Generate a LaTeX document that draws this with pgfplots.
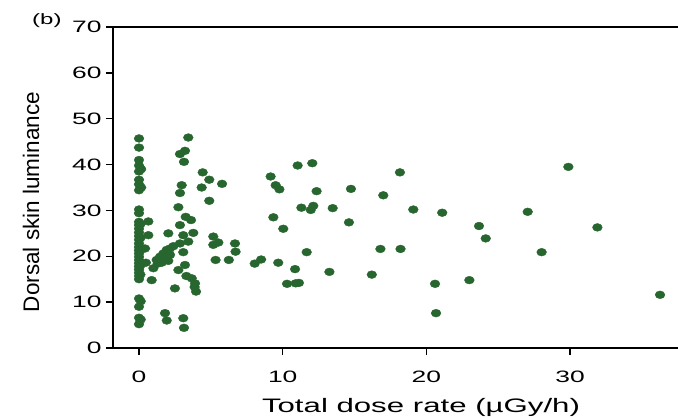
\documentclass[border=0pt]{standalone}
\usepackage{fontspec}
\setmainfont{Liberation Sans}
\newfontfamily\tickfont[FakeStretch=1.6]{Liberation Sans}
\newfontfamily\labfont[FakeStretch=1.6]{Liberation Sans}
\newfontfamily\plainfont{Liberation Sans}
\usepackage{pgfplots}
\pgfplotsset{compat=1.18}
\definecolor{dotgreen}{RGB}{40,102,47}
\begin{document}
\begin{tikzpicture}
\begin{axis}[
  scale only axis,
  width=565pt, height=321pt,
  xmin=-1.81, xmax=37.51,
  ymin=0, ymax=70,
  axis x line*=box, axis y line*=left,
  xtick={0,10,20,30}, ytick={0,10,...,70},
  xtick pos=bottom, ytick pos=left,
  tick align=outside,
  major tick length=7pt,
  every tick/.style={black, line width=1.4pt},
  axis line style={black, line width=1.4pt},
  /pgf/number format/assume math mode=true,
  ticklabel style={font=\tickfont\fontsize{16.5}{18}\selectfont},
  xticklabel style={yshift=-12pt},
  yticklabel style={xshift=-1pt},
  clip=false,
]
\addplot[only marks, mark=*, mark size=3.9pt, mark options={xscale=1.25, fill=dotgreen, draw=dotgreen}] coordinates {
(0,45.7) (0,43.7) (0,41.0) (0,39.8) (0,38.5) (0,36.7) (0,35.7) (0,34.4)
(0,30.2) (0,29.4) (0,27.5) (0,26.8) (0,26.0) (0,25.2) (0,24.4) (0,23.6)
(0,22.8) (0,22.0) (0,21.3) (0,20.6) (0,19.9) (0,19.2) (0,18.5) (0,17.8)
(0,17.1) (0,16.4) (0,15.7) (0,15.0) (0,10.8) (0,9.0) (0,6.6) (0,5.2)
(0.15,35.0) (0.15,39.0) (0.1,27.0) (0.1,24.0) (0.15,21.5) (0.1,18.0) (0.1,16.0) (0.12,6.2) (0.12,10.2)
(0.65,27.6) (0.65,24.6) (0.42,21.7) (0.48,18.6) (1.0,17.4) (0.88,14.8)
(1.23,19.2) (1.46,19.9) (1.69,20.6) (1.93,21.4) (2.16,21.7) (2.39,22.2)
(1.81,19.3) (2.04,19.0) (2.16,20.3) (1.58,18.6) (1.3,18.4)
(1.81,7.6) (1.93,6.0) (3.08,6.5) (3.13,4.4)
(2.5,13.0) (2.74,17.0) (3.2,18.1) (3.08,20.9) (3.3,15.7) (3.67,15.2) (3.9,14.1) (3.87,13.3) (3.97,12.3)
(2.74,30.7) (3.25,28.6) (3.62,27.9) (2.85,26.8) (2.04,25.0) (3.78,25.1) (3.08,24.6) (3.43,23.2) (2.85,22.8)
(2.85,42.3) (3.2,43.0) (3.43,45.9) (3.13,40.6) (2.97,35.5) (2.85,33.8) (4.43,38.3) (4.89,36.7) (4.36,35.0) (4.89,32.1) (5.78,35.8)
(5.17,24.3) (5.17,22.5) (5.52,23.0) (5.33,19.2) (6.25,19.2) (6.68,22.8) (6.72,21.0)
(8.05,18.4) (8.5,19.3) (9.69,18.6) (9.35,28.5) (10.04,26.0) (10.3,14.0) (10.86,17.2) (10.9,14.1) (11.13,14.2) (11.67,20.9) (11.3,30.6) (11.95,30.1) (12.13,31.0) (13.48,30.5) (13.25,16.6)
(9.16,37.4) (9.51,35.5) (9.77,34.6) (11.04,39.8) (12.06,40.3) (12.36,34.2) (14.75,34.7) (14.61,27.4)
(17.0,33.3) (16.8,21.6) (18.2,21.6) (16.2,16.0) (18.16,38.3) (19.09,30.2) (21.1,29.5) (23.66,26.6) (24.13,23.9) (20.6,14.0) (22.99,14.8) (20.67,7.6)
(29.88,39.5) (27.05,29.7) (31.9,26.3) (28.02,20.9) (36.26,11.6)
};
\end{axis}
\node[font=\labfont\fontsize{15}{17}\selectfont, anchor=base west, inner sep=0pt] at (-81pt,323pt) {(b)};
\node[font=\labfont\fontsize{19.5}{22}\selectfont, anchor=base, inner sep=0pt] at (308pt,-64pt) {Total dose rate (µGy/h)};
\node[font=\plainfont\fontsize{22.5}{24}\selectfont, rotate=90, anchor=center, inner sep=0pt] at (-82pt,146pt) {Dorsal skin luminance};
\pgfresetboundingbox
\path[use as bounding box] (-113pt,-70pt) rectangle (565pt,348pt);
\end{tikzpicture}
\end{document}
